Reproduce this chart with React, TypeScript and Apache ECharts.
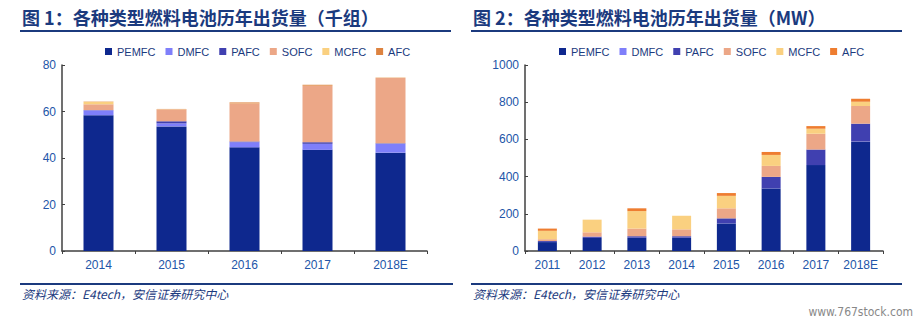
import React, { useEffect, useRef } from "react";
import * as echarts from "echarts";

const seriesNames = ["PEMFC", "DMFC", "PAFC", "SOFC", "MCFC", "AFC"];
const colors1 = ["#0E288E", "#7F7FFA", "#4040B0", "#ECA787", "#FAD080", "#DD8340"];
const colors2 = ["#0E288E", "#7F7FFA", "#4040B0", "#ECA787", "#FAD080", "#EE7D30"];

// Chart 1 (thousand units)
const categories1 = ["2014", "2015", "2016", "2017", "2018E"];
const pemfc1 = [58.4, 53.6, 44.6, 43.5, 42.3];
const dmfc1 = [2.1, 1.3, 2.2, 2.6, 3.8];
const pafc1 = [0.1, 0.9, 0.3, 0.7, 0.2];
const sofc1 = [2.5, 5.1, 16.3, 24.2, 28.1];
const mcfc1 = [1.1, 0.1, 0.1, 0.1, 0.1];
const afc1 = [0.1, 0.1, 0.4, 0.4, 0.1];

// Chart 2 (MW)
const categories2 = ["2011", "2012", "2013", "2014", "2015", "2016", "2017", "2018E"];
const pemfc2 = [48, 70, 71, 71, 148, 336, 462, 588];
const dmfc2 = [0.5, 0.5, 0.5, 0.5, 0.5, 0.5, 0.5, 0.5];
const pafc2 = [5, 7, 8, 8, 27, 62, 83, 96];
const sofc2 = [10, 23, 41, 37, 54, 59, 85, 95];
const mcfc2 = [45, 68, 94, 73, 67, 59, 27, 23];
const afc2 = [12, 0, 15, 0, 15, 16, 14, 16];

const yTicks1 = { min: 0, max: 80, interval: 20 };
const yTicks2 = { min: 0, max: 1000, interval: 200 };

const title1 = "图 1：各种类型燃料电池历年出货量（千组）";
const title2 = "图 2：各种类型燃料电池历年出货量（MW）";
const sourceText = "资料来源：E4tech，安信证券研究中心";
const watermark = "www.767stock.com";

const navy = "#1B3A7E";
const labelBlue = "#2255A8";

export default function App() {
  const ref = useRef<HTMLDivElement>(null);
  useEffect(() => {
    document.body.style.margin = "0";
    const chart = echarts.init(ref.current!, undefined, { renderer: "svg" });
    const data1 = [pemfc1, dmfc1, pafc1, sofc1, mcfc1, afc1];
    const data2 = [pemfc2, dmfc2, pafc2, sofc2, mcfc2, afc2];

    const axisCommon = (cats: string[]) => ({
      type: "category" as const,
      data: cats,
      axisLine: { lineStyle: { color: "#404040", width: 1.5 } },
      axisTick: { show: true, inside: false, length: 3, lineStyle: { color: "#404040" } },
      axisLabel: { color: labelBlue, fontSize: 12, fontFamily: "Liberation Sans, Arial", margin: 8, interval: 0 },
    });
    const yCommon = (t: { min: number; max: number; interval: number }) => ({
      type: "value" as const,
      min: t.min,
      max: t.max,
      interval: t.interval,
      axisLine: { show: true, lineStyle: { color: "#404040", width: 1.5 } },
      axisTick: { show: true, inside: true, length: 3, lineStyle: { color: "#404040" } },
      splitLine: { show: false },
      axisLabel: {
        color: labelBlue,
        fontSize: 12,
        fontFamily: "Liberation Sans, Arial",
        margin: 6,
        formatter: (v: number) => String(v),
      },
    });

    const series: any[] = [];
    seriesNames.forEach((n, i) => {
      series.push({
        name: n,
        type: "bar",
        stack: "a",
        xAxisIndex: 0,
        yAxisIndex: 0,
        data: data1[i],
        barWidth: 30,
        itemStyle: { color: colors1[i] },
      });
    });
    seriesNames.forEach((n, i) => {
      series.push({
        name: n + " ",
        type: "bar",
        stack: "b",
        xAxisIndex: 1,
        yAxisIndex: 1,
        data: data2[i],
        barWidth: 19,
        itemStyle: { color: colors2[i] },
      });
    });

    const legendText = { color: navy, fontSize: 11, fontFamily: "Liberation Sans, Arial" };

    chart.setOption({
      animation: false,
      grid: [
        { left: 62, top: 65, width: 365, height: 186 },
        { left: 525, top: 65, width: 358, height: 186 },
      ],
      xAxis: [
        { ...axisCommon(categories1), gridIndex: 0 },
        { ...axisCommon(categories2), gridIndex: 1 },
      ],
      yAxis: [
        { ...yCommon(yTicks1), gridIndex: 0 },
        { ...yCommon(yTicks2), gridIndex: 1 },
      ],
      legend: [
        {
          data: seriesNames.map((n, i) => ({ name: n, itemStyle: { color: colors1[i] } })),
          left: 100,
          top: 41,
          itemWidth: 7,
          itemHeight: 7,
          itemGap: 10,
          icon: "rect",
          textStyle: legendText,
        },
        {
          data: seriesNames.map((n, i) => ({ name: n + " ", itemStyle: { color: colors2[i] } })),
          left: 554,
          top: 41,
          itemWidth: 7,
          itemHeight: 7,
          itemGap: 10,
          icon: "rect",
          textStyle: legendText,
          formatter: (s: string) => s.trim(),
        },
      ],
      graphic: [
        {
          type: "text",
          left: 22,
          top: 8,
          style: { text: title1, fontSize: 18, fontWeight: "bold", fill: navy, fontFamily: "Noto Sans CJK SC" },
        },
        {
          type: "text",
          left: 473,
          top: 8,
          style: { text: title2, fontSize: 18, fontWeight: "bold", fill: navy, fontFamily: "Noto Sans CJK SC" },
        },
        { type: "line", shape: { x1: 20, y1: 31, x2: 451, y2: 31 }, style: { stroke: navy, lineWidth: 2 } },
        { type: "line", shape: { x1: 471, y1: 31, x2: 902, y2: 31 }, style: { stroke: navy, lineWidth: 2 } },
        { type: "line", shape: { x1: 20, y1: 284, x2: 453, y2: 284 }, style: { stroke: navy, lineWidth: 2 } },
        { type: "line", shape: { x1: 471, y1: 284, x2: 902, y2: 284 }, style: { stroke: navy, lineWidth: 2 } },
        {
          type: "text",
          left: 22,
          top: 287,
          style: { text: sourceText, fontSize: 12, fontStyle: "italic", fill: navy, fontFamily: "Noto Sans CJK SC" },
        },
        {
          type: "text",
          left: 473,
          top: 287,
          style: { text: sourceText, fontSize: 12, fontStyle: "italic", fill: navy, fontFamily: "Noto Sans CJK SC" },
        },
        {
          type: "text",
          right: 8,
          top: 306,
          style: { text: watermark, fontSize: 12, fill: "#888888", fontFamily: "DejaVu Sans Condensed, DejaVu Sans" },
        },
      ],
      series,
    });
    return () => chart.dispose();
  }, []);
  return <div ref={ref} style={{ width: 921, height: 325 }} />;
}
